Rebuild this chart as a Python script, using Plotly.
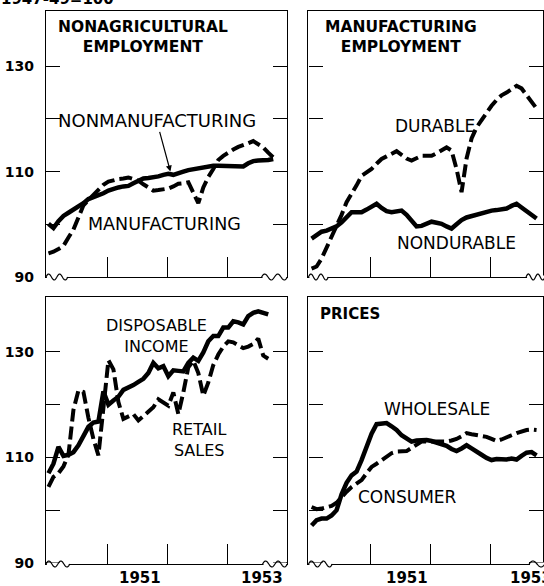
import numpy as np
import plotly.graph_objects as go

W, H = 544, 586          # reference picture size (all positions below are in these pixels)
H_PAGE = 594             # height of the page area that ends up squeezed into the 586-px picture

# ---------------- data (monthly, Jan 1950 onward; 1947-49 = 100) ----------------
months = [1950 + (i + 0.15) / 12 for i in range(46)]

nonmanufacturing = [100.1, 99.3, 100.6, 101.6, 102.2, 102.8, 103.3, 104.0, 104.8, 105.1,
                    105.5, 105.9, 106.4, 106.8, 107.0, 107.2, 107.3, 107.8, 108.3, 108.7,
                    108.8, 108.9, 109.1, 109.4, 109.6, 109.4, 109.6, 110.0, 110.3, 110.5,
                    110.7, 110.9, 111.1, 111.1, 111.1, 111.1, 111.1, 111.0, 110.9, 111.0,
                    111.6, 112.0, 112.1, 112.1, 112.2, 112.4]
manufacturing = [94.5, 94.8, 95.3, 95.9, 97.5, 99.0, 101.3, 103.6, 104.6, 105.5,
                 106.5, 107.5, 108.1, 108.4, 108.6, 108.7, 108.9, 108.6, 108.3, 107.6,
                 106.9, 106.4, 106.5, 106.6, 106.8, 107.2, 107.7, 107.8, 108.0, 106.0,
                 104.0, 107.0, 109.0, 110.5, 112.2, 113.0, 113.7, 114.2, 114.7, 115.0,
                 115.4, 115.8, 115.2, 114.6, 113.6, 112.7]

durable = [91.6, 92.0, 93.5, 95.5, 97.9, 99.6, 101.8, 104.2, 105.7, 107.4,
           109.2, 109.8, 110.5, 111.5, 112.4, 112.9, 113.3, 113.9, 113.2, 112.5,
           112.1, 112.5, 113.0, 113.0, 113.0, 113.5, 114.1, 114.6, 114.0, 110.5,
           106.1, 112.5, 116.3, 118.4, 119.8, 121.2, 122.5, 123.6, 124.5, 125.0,
           125.6, 126.3, 125.8, 124.6, 123.3, 122.0]
nondurable = [97.3, 98.0, 98.6, 98.8, 99.1, 99.6, 100.4, 101.4, 102.3, 102.3,
              102.3, 102.8, 103.4, 103.9, 103.1, 102.5, 102.3, 102.5, 102.6, 101.8,
              100.8, 99.6, 99.7, 100.1, 100.5, 100.3, 100.1, 99.6, 99.2, 100.0,
              100.8, 101.3, 101.6, 101.9, 102.2, 102.5, 102.6, 102.7, 102.8, 103.0,
              103.5, 103.9, 103.2, 102.5, 101.8, 101.1]

disposable_income = [107.0, 108.8, 112.0, 110.3, 110.5, 111.0, 112.3, 114.0, 115.8, 116.6,
                     116.8, 122.5, 120.0, 120.8, 121.5, 122.8, 123.2, 123.7, 124.3, 124.9,
                     126.0, 127.9, 126.9, 127.3, 125.4, 126.5, 126.4, 126.3, 127.9, 128.9,
                     128.3, 129.9, 132.0, 133.0, 133.0, 134.6, 134.6, 135.8, 135.6, 135.2,
                     136.8, 137.4, 137.7, 137.5, 137.1]
retail_sales = [104.4, 106.3, 107.0, 108.3, 110.5, 119.0, 122.7, 122.4, 117.5, 113.5,
                110.4, 120.0, 128.4, 126.7, 120.5, 117.3, 117.8, 118.2, 117.0, 117.8,
                118.6, 119.5, 121.0, 120.4, 119.8, 122.3, 118.2, 122.3, 127.1, 128.3,
                126.0, 121.7, 124.2, 127.5, 129.5, 131.0, 132.0, 131.8, 131.2, 130.7,
                131.0, 131.5, 132.5, 129.3, 128.7]

wholesale = [97.1, 98.1, 98.4, 98.4, 99.0, 100.0, 103.0, 105.2, 106.6, 107.3,
             109.5, 112.0, 114.5, 116.3, 116.5, 116.5, 115.9, 115.2, 114.2, 113.5,
             113.0, 113.2, 113.3, 113.3, 113.1, 112.8, 112.5, 112.2, 111.6, 111.2,
             111.7, 112.3, 111.7, 111.2, 110.5, 109.9, 109.5, 109.7, 109.6, 109.6,
             109.8, 109.6, 110.3, 110.9, 111.0, 110.4]
consumer = [100.6, 100.2, 100.3, 100.5, 100.8, 101.4, 102.5, 103.5, 104.4, 105.0,
            105.7, 107.0, 108.2, 108.8, 109.5, 110.2, 110.8, 111.1, 111.1, 111.2,
            111.8, 112.4, 113.0, 113.0, 113.0, 113.0, 113.0, 113.0, 113.2, 113.5,
            114.0, 114.6, 114.4, 114.2, 114.1, 113.9, 113.5, 113.1, 113.4, 113.9,
            114.2, 114.6, 114.9, 115.2, 115.3, 115.2]

y_tickvals = [90, 100, 110, 120, 130]
y_ticktext = ["90", "", "110", "", "130"]
x_tickvals = [1951, 1952, 1953]
year_labels = ["1951", "1953"]

# ---------------- layout geometry (reference pixels -> paper fractions) ----------------
def fx(px):
    return px / W

def fy(py):
    return 1 - py / H

SY = H_PAGE / H   # pixel stretch for pixel-sized offsets

panels = {
    # name: (x0, x1, y0_top, y1_bottom, xrange, yrange)
    "1": (46, 288, 11, 277, [1949.97, 1954.0], [90, 140.5]),
    "2": (309, 544, 11, 277, [1949.96, 1953.87], [90, 140.5]),
    "3": (46, 288, 297, 564, [1949.97, 1954.0], [89.8, 140.4]),
    "4": (309, 544, 297, 564, [1949.96, 1953.87], [89.8, 140.4]),
}

FONT = "DejaVu Sans"
fig = go.Figure()

solid = dict(color="black", width=4.5)
dashed = dict(color="black", width=4, dash="13px,5px")

def add(x, y, ax, line, name):
    fig.add_trace(go.Scatter(x=x, y=y, mode="lines", line=line, name=name,
                             xaxis="x" + ("" if ax == "1" else ax),
                             yaxis="y" + ("" if ax == "1" else ax),
                             showlegend=False, hoverinfo="skip"))

add(months, manufacturing, "1", dashed, "Manufacturing")
add(months, nonmanufacturing, "1", solid, "Nonmanufacturing")
add(months, durable, "2", dashed, "Durable")
add(months, nondurable, "2", solid, "Nondurable")
add(months[:len(retail_sales)], retail_sales, "3", dashed, "Retail sales")
add(months[:len(disposable_income)], disposable_income, "3", solid, "Disposable income")
add(months, consumer, "4", dashed, "Consumer")
add(months, wholesale, "4", solid, "Wholesale")

layout = dict(
    width=W, height=H_PAGE, autosize=False,
    margin=dict(l=0, r=0, t=0, b=0),
    paper_bgcolor="white", plot_bgcolor="white",
    showlegend=False,
)

for k, (x0, x1, y0, y1, xr, yr) in panels.items():
    xs = "xaxis" + ("" if k == "1" else k)
    ys = "yaxis" + ("" if k == "1" else k)
    anchor_y = "y" + ("" if k == "1" else k)
    anchor_x = "x" + ("" if k == "1" else k)
    layout[xs] = dict(
        domain=[fx(x0), min(1.0, fx(x1))], range=xr, anchor=anchor_y,
        showline=True, linecolor="black", linewidth=1.2, mirror=True,
        ticks="inside", ticklen=20, tickwidth=1.2, tickcolor="black",
        tickvals=x_tickvals, showticklabels=False,
        showgrid=False, zeroline=False, fixedrange=True,
    )
    layout[ys] = dict(
        domain=[fy(y1), fy(y0)], range=yr, anchor=anchor_x,
        showline=True, linecolor="black", linewidth=1.2, mirror="ticks",
        ticks="inside", ticklen=14, tickwidth=1.2, tickcolor="black",
        tickvals=y_tickvals, ticktext=y_ticktext,
        showticklabels=(k in ("1", "3")), ticklabelstandoff=8,
        tickfont=dict(family=FONT, size=14, color="black", weight="bold"),
        showgrid=False, zeroline=False, fixedrange=True,
    )

fig.update_layout(**layout)

# ---------------- text ----------------
def text(px, py, s, size=17, bold=False, xanchor="center", **kw):
    fig.add_annotation(x=fx(px), y=fy(py), xref="paper", yref="paper", text=s,
                       showarrow=False, xanchor=xanchor, yanchor="middle",
                       align="center", borderpad=0,
                       font=dict(family=FONT, size=size, color="black",
                                 weight="bold" if bold else "normal"), **kw)

text(0, -0.5, "1947-49=100", size=15, bold=True, xanchor="left")
text(143, 37, "NONAGRICULTURAL<br>EMPLOYMENT", size=15.5, bold=True)
text(401.5, 37, "MANUFACTURING<br>EMPLOYMENT", size=15.5, bold=True)
text(351, 314, "PRICES", size=15, bold=True)

text(165, 223.5, "MANUFACTURING", size=17.5)
text(436, 126, "DURABLE")
text(457, 243, "NONDURABLE")
text(157, 336, "DISPOSABLE<br>INCOME", size=16)
text(199, 439.5, "RETAIL<br>SALES", size=16)
text(437.5, 409, "WHOLESALE")
text(408, 496.5, "CONSUMER")

# label with arrow
fig.add_annotation(x=fx(170.7), y=fy(171.5), xref="paper", yref="paper",
                   text="NONMANUFACTURING", showarrow=True, arrowhead=2,
                   arrowsize=1, arrowwidth=1.2, arrowcolor="black",
                   ax=157 - 170.7, ay=(121.5 - 171.5) * SY, axref="pixel", ayref="pixel",
                   standoff=0, startstandoff=0, borderpad=0,
                   font=dict(family=FONT, size=18, color="black"))

# year labels under bottom panels
for (px, lab) in [(140, year_labels[0]), (262, year_labels[1]),
                  (408, year_labels[0]), (532, year_labels[1])]:
    text(px, 578, lab, size=15, bold=True)

# ---------------- axis-break squiggles ----------------
def wave_path(x0, x1, y, amp=3.0, period=11.0):
    n = max(1, int(round((x1 - x0) / period)))
    xs = np.linspace(x0, x1, 40)
    ys = y - amp * np.sin((xs - x0) / (x1 - x0) * n * 2 * np.pi)
    pts = [f"{fx(a):.5f},{fy(b):.5f}" for a, b in zip(xs, ys)]
    return "M" + " L".join(pts)

breaks = [(46, 68, 277), (262, 288, 277), (309, 329, 277), (527, 546, 277),
          (46, 70, 564), (263, 288, 564), (309, 333, 564), (530, 546, 564)]
for x0, x1, y in breaks:
    fig.add_shape(type="line", xref="paper", yref="paper",
                  x0=fx(x0 + 1), x1=fx(x1 - 1), y0=fy(y), y1=fy(y),
                  line=dict(color="white", width=3), layer="above")
    fig.add_shape(type="path", xref="paper", yref="paper", path=wave_path(x0, x1, y),
                  line=dict(color="black", width=1.2), layer="above")

# pin the figure to the page's top-left corner (no default body margin)
pin = (
    "var s='margin:0;padding:0;overflow:hidden;';"
    "document.documentElement.style.cssText=s;document.body.style.cssText=s;"
    "var gd=document.getElementById('{plot_id}');"
    "gd.style.position='absolute';gd.style.left='0px';gd.style.top='0px';"
)
fig.write_html("out.html", config={"displayModeBar": False}, post_script=pin)
